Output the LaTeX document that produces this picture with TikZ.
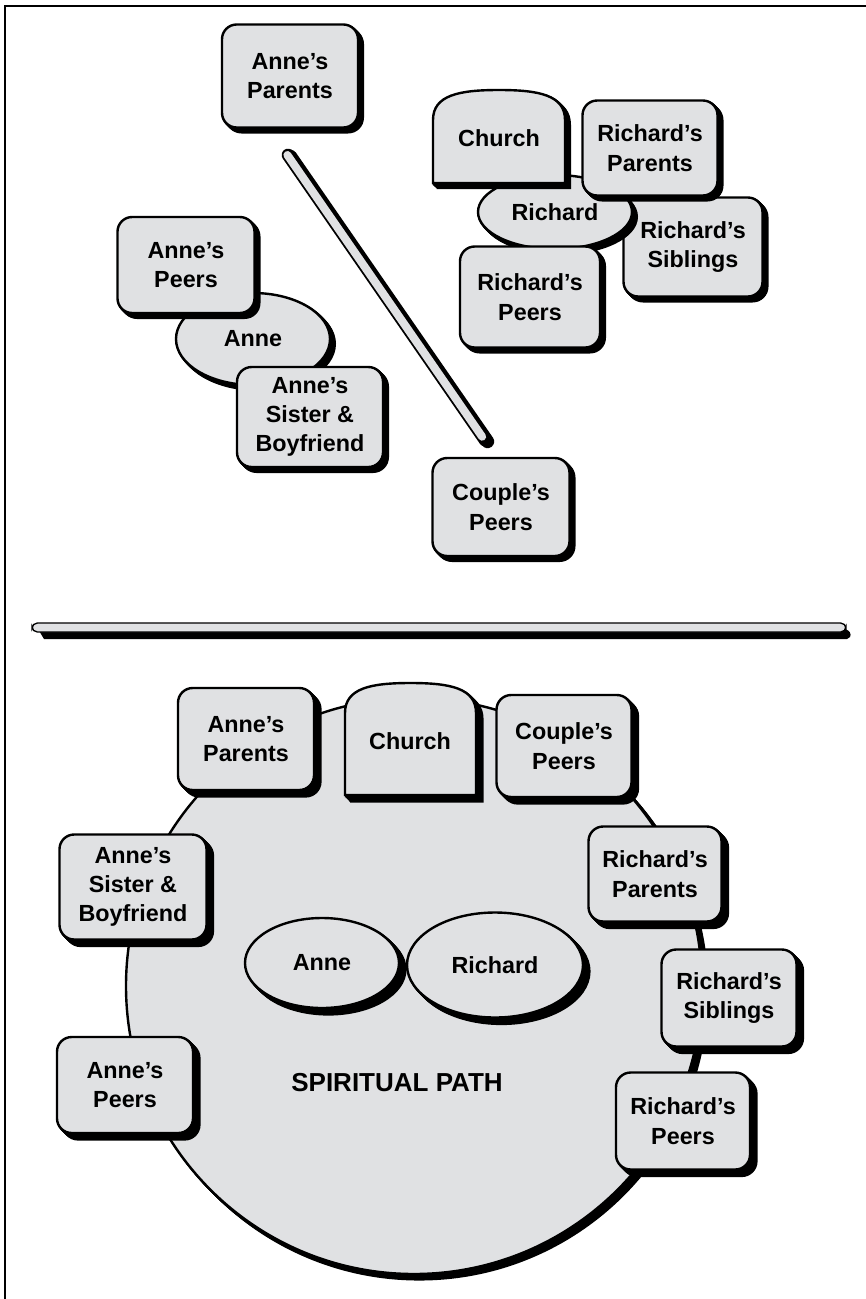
\documentclass[tikz,border=0pt]{standalone}
\usepackage{fontspec}
\setmainfont{Liberation Sans}
\usetikzlibrary{shapes.geometric,shadows}
\definecolor{boxgray}{RGB}{224,225,227}
\newcommand\pxu{0.75pt}
% outline of a church tablet: left, right, top, bottom
\newcommand\churchoutline[4]{(#1,#4) -- (#1,#3+30) .. controls (#1,#3+5) and ({#1+(#2-#1)*0.2},#3) .. ({(#1+#2)/2},#3) .. controls ({#2-(#2-#1)*0.2},#3) and (#2,#3+5) .. (#2,#3+30) -- (#2,#4) -- cycle}
\tikzset{
  extrude/.style={general shadow={fill=black,draw=black,line width=1.8pt,shadow xshift=#1,shadow yshift=-#1}},
  shadowed/.style={extrude=0.6pt,extrude=1.2pt,extrude=1.8pt,extrude=2.4pt,extrude=3pt,extrude=3.6pt},
  deepshadow/.style={extrude=0.8pt,extrude=1.6pt,extrude=2.4pt,extrude=3.2pt,extrude=4pt,extrude=4.8pt},
  lbl/.style={font=\fontsize{17.5}{22}\selectfont\bfseries,align=center,text=black},
  card/.style 2 args={lbl,draw=black,line width=1.8pt,fill=boxgray,rounded corners=11pt,
    minimum width=#1*\pxu,minimum height=#2*\pxu,inner sep=0pt},
  blob/.style 2 args={lbl,ellipse,draw=black,line width=1.8pt,fill=boxgray,
    minimum width=#1*\pxu,minimum height=#2*\pxu,inner sep=0pt},
  tablet/.style={draw=black,line width=1.8pt,fill=boxgray},
}
\begin{document}
\begin{tikzpicture}[x=0.75pt,y=-0.75pt]
\useasboundingbox (0,0) rectangle (866,1299);
% frame
\draw[line width=2pt] (5,1305) -- (5,6) -- (870,6);

% ---------- upper panel: scattered relationships ----------
\node[card={136}{103},shadowed] (tAP) at (290,76) {Anne’s\\Parents};

% divider rod
\coordinate (barA) at (288,155);
\coordinate (barB) at (485,440);
\draw[line width=10pt,line cap=round] ([shift={(2.5,1.5)}]barA) -- ([shift={(2.5,1.5)}]barB);
\draw[line width=9.5pt,line cap=round] (barA) -- (barB);
\draw[line width=6pt,line cap=round,boxgray,shorten >=3pt] ([shift={(-0.6,0)}]barA) -- ([shift={(-0.6,0)}]barB);

% Anne's cluster
\node[blob={154}{92},shadowed] (tAnne) at (253,339) {Anne};
\node[card={137}{96},shadowed] (tAPe) at (186,265) {Anne’s\\Peers};
\node[card={146}{100},shadowed] (tAS) at (310,417) {Anne’s\\Sister \&\\Boyfriend};

% Richard's cluster
\node[card={139}{99},shadowed] (tRS) at (693,247) {Richard’s\\Siblings};
\node[blob={154}{74},shadowed] (tRich) at (555,212) {Richard};
\path[tablet,shadowed] \churchoutline{433}{565}{90}{183};
\node[lbl] (tCh) at (499,138) {Church};
\node[card={135}{95},shadowed] (tRP) at (650,148) {Richard’s\\Parents};
\node[card={140}{101},shadowed] (tRPe) at (530,297) {Richard’s\\Peers};

\node[card={137}{98},shadowed] (tCP) at (501,507) {Couple’s\\Peers};

% ---------- horizontal divider ----------
\fill[black] (38,629) -- (845,629) .. controls (849,630) and (852,634) .. (850,637) -- (847,639) -- (44,639) -- cycle;
\draw[fill=boxgray,line width=1pt,rounded corners=4pt] (32,623) rectangle (846,632);

% ---------- lower panel: the spiritual path ----------
\node[circle,draw=black,line width=1.8pt,fill=boxgray,minimum size=576*\pxu,inner sep=0pt,
  extrude=1pt,extrude=2pt,extrude=3pt,extrude=4pt] (spath) at (414,986) {};
\node[lbl,font=\fontsize{19.5}{22}\selectfont\bfseries] (spt) at (397,1083) {SPIRITUAL PATH};

\node[blob={154}{90},deepshadow] (bAnne) at (322,963) {Anne};
\node[blob={176}{105},deepshadow] (bRich) at (495,965) {Richard};

\node[card={136}{102},deepshadow] (bAP) at (246,739) {Anne’s\\Parents};
\path[tablet,deepshadow] \churchoutline{345}{476}{683}{795};
\node[lbl] (bCh) at (410,741) {Church};
\node[card={135}{102},deepshadow] (bCP) at (564,746) {Couple’s\\Peers};
\node[card={133}{95},deepshadow] (bRP) at (655,874) {Richard’s\\Parents};
\node[card={135}{97},deepshadow] (bRS) at (729,998) {Richard’s\\Siblings};
\node[card={134}{97},deepshadow] (bRPe) at (683,1121) {Richard’s\\Peers};
\node[card={147}{105},deepshadow] (bAS) at (133,887) {Anne’s\\Sister \&\\Boyfriend};
\node[card={136}{96},deepshadow] (bAPe) at (125,1085) {Anne’s\\Peers};
\end{tikzpicture}
\end{document}
